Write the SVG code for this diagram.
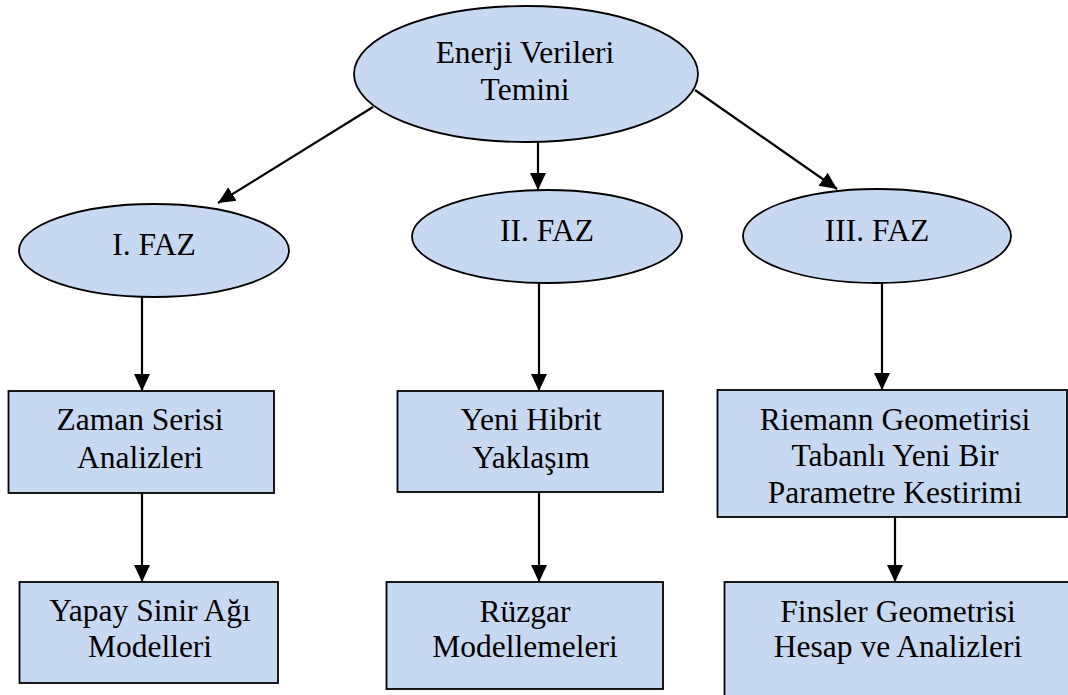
<svg xmlns="http://www.w3.org/2000/svg" width="1068" height="695" viewBox="0 0 1068 695">
  <style>
    .shape { fill: #C6D9F1; stroke: #000; stroke-width: 1.8; }
    .lbl { font-family: 'Liberation Serif', 'Times New Roman', 'DejaVu Serif', serif; font-size: 31.5px; fill: #000; text-anchor: middle; }
    .edge { fill: none; stroke: #000; stroke-width: 2.2; }
  </style>
  <defs>
    <marker id="arrow" markerUnits="userSpaceOnUse" markerWidth="18" markerHeight="18" viewBox="0 0 18 18" refX="17" refY="9" orient="auto">
      <path d="M0,1 L17,9 L0,17 Z" fill="#000"/>
    </marker>
  </defs>

  <rect width="1068" height="695" fill="#fff"/>

  <g id="connectors">
    <path class="edge" d="M373,107 L218,203" marker-end="url(#arrow)"/>
    <path class="edge" d="M538,142 L538,190" marker-end="url(#arrow)"/>
    <path class="edge" d="M695,90 L837,189" marker-end="url(#arrow)"/>
    <path class="edge" d="M142,297 L142,391" marker-end="url(#arrow)"/>
    <path class="edge" d="M539,283 L539,391" marker-end="url(#arrow)"/>
    <path class="edge" d="M882,283 L882,390" marker-end="url(#arrow)"/>
    <path class="edge" d="M142,493 L142,582" marker-end="url(#arrow)"/>
    <path class="edge" d="M539,492 L539,582" marker-end="url(#arrow)"/>
    <path class="edge" d="M895,517 L895,582" marker-end="url(#arrow)"/>
  </g>

  <g id="enerji">
    <ellipse class="shape" cx="526" cy="74" rx="172" ry="68"/>
    <text class="lbl" x="525" y="63">Enerji Verileri</text>
    <text class="lbl" x="525" y="100">Temini</text>
  </g>

  <g id="faz1">
    <ellipse class="shape" cx="154" cy="250.5" rx="135" ry="46.5"/>
    <text class="lbl" x="154" y="255">I. FAZ</text>
  </g>

  <g id="faz2">
    <ellipse class="shape" cx="547" cy="236.5" rx="135" ry="46.5"/>
    <text class="lbl" x="547" y="241">II. FAZ</text>
  </g>

  <g id="faz3">
    <ellipse class="shape" cx="877" cy="236" rx="134" ry="47"/>
    <text class="lbl" x="877" y="241">III. FAZ</text>
  </g>

  <g id="zaman">
    <rect class="shape" x="8.5" y="391" width="265.5" height="102"/>
    <text class="lbl" x="140" y="430">Zaman Serisi</text>
    <text class="lbl" x="140" y="468">Analizleri</text>
  </g>

  <g id="yapay">
    <rect class="shape" x="19.5" y="582" width="258.5" height="101"/>
    <text class="lbl" x="150" y="621">Yapay Sinir Ağı</text>
    <text class="lbl" x="150" y="657">Modelleri</text>
  </g>

  <g id="hibrit">
    <rect class="shape" x="397.5" y="391" width="265.5" height="101"/>
    <text class="lbl" x="531" y="430">Yeni Hibrit</text>
    <text class="lbl" x="531" y="468">Yaklaşım</text>
  </g>

  <g id="ruzgar">
    <rect class="shape" x="386.5" y="582" width="276.5" height="107"/>
    <text class="lbl" x="525" y="622">Rüzgar</text>
    <text class="lbl" x="525" y="657">Modellemeleri</text>
  </g>

  <g id="riemann">
    <rect class="shape" x="717.5" y="390" width="349.5" height="127"/>
    <text class="lbl" x="895" y="430">Riemann Geometirisi</text>
    <text class="lbl" x="895" y="466">Tabanlı Yeni Bir</text>
    <text class="lbl" x="895" y="503">Parametre Kestirimi</text>
  </g>

  <g id="finsler">
    <rect class="shape" x="724.5" y="582" width="360" height="130"/>
    <text class="lbl" x="898" y="622">Finsler Geometrisi</text>
    <text class="lbl" x="898" y="657">Hesap ve Analizleri</text>
  </g>
</svg>
